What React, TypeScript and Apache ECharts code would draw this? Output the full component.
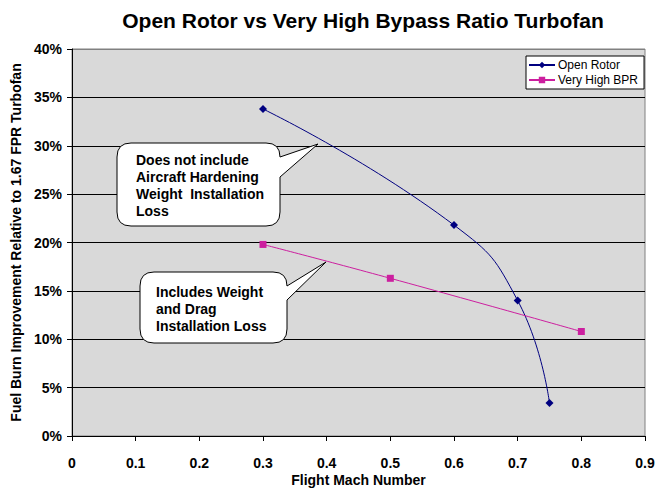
import React, { useEffect, useRef } from "react";
import * as echarts from "echarts";

const openRotorMach = [0.3, 0.6, 0.7, 0.75];
const openRotorValues = [0.338, 0.218, 0.14, 0.034];
const vhbprMach = [0.3, 0.5, 0.8];
const vhbprValues = [0.198, 0.163, 0.108];
const xTicks = [0, 0.1, 0.2, 0.3, 0.4, 0.5, 0.6, 0.7, 0.8, 0.9];
const yTicks = [0, 0.05, 0.1, 0.15, 0.2, 0.25, 0.3, 0.35, 0.4];

const bubble1Lines = ["Does not include", "Aircraft Hardening", "Weight  Installation", "Loss"];
const bubble2Lines = ["Includes Weight", "and Drag", "Installation Loss"];

const FONT = "Arial, 'Liberation Sans', Helvetica, sans-serif";

const bubble1D =
  "M131 143 H266 Q280 143 280 157 L318 144 L280 177 V212 Q280 226 266 226 H131 Q117 226 117 212 V157 Q117 143 131 143 Z";
const bubble2D =
  "M154 272 H273 Q287 272 287 286 L326 262 L287 300 V329 Q287 343 273 343 H154 Q140 343 140 329 V286 Q140 272 154 272 Z";

let registered = false;
function registerShapes() {
  if (registered) return;
  registered = true;
  echarts.graphic.registerShape("bubble1", echarts.graphic.extendPath(bubble1D, {}) as any);
  echarts.graphic.registerShape("bubble2", echarts.graphic.extendPath(bubble2D, {}) as any);
}

export default function App() {
  const ref = useRef<HTMLDivElement>(null);
  useEffect(() => {
    document.body.style.margin = "0";
    registerShapes();
    const chart = echarts.init(ref.current!, null, { renderer: "svg" });
    const splitColors = yTicks.map((_, i) => (i === yTicks.length - 1 ? "#808080" : "#000000"));
    chart.setOption({
      animation: false,
      backgroundColor: "#ffffff",
      title: {
        text: "Open Rotor vs Very High Bypass Ratio Turbofan",
        left: 358,
        top: 5,
        textAlign: "center",
        textStyle: { fontFamily: FONT, fontSize: 21, fontWeight: "bold", color: "#000" },
      },
      legend: {
        orient: "vertical",
        left: 526,
        top: 56,
        padding: [3, 6, 3, 2],
        itemGap: 3,
        itemWidth: 26,
        itemHeight: 8,
        backgroundColor: "#ffffff",
        borderColor: "#000000",
        borderWidth: 1,
        borderRadius: 0,
        textStyle: { fontFamily: FONT, fontSize: 12, color: "#000", padding: [0, 0, 0, -2] },
        data: ["Open Rotor", "Very High BPR"],
      },
      grid: {
        left: 72,
        right: 27,
        top: 49,
        bottom: 52,
        containLabel: false,
        outerBoundsMode: "none",
        show: true,
        backgroundColor: "#d9d9d9",
        borderColor: "#808080",
        borderWidth: 1,
      },
      xAxis: {
        type: "value",
        min: 0,
        max: 0.9,
        interval: 0.1,
        name: "Flight Mach Number",
        nameLocation: "middle",
        nameGap: 37,
        nameMoveOverlap: false,
        nameTextStyle: { fontFamily: FONT, fontSize: 14, fontWeight: "bold", color: "#000" },
        axisLine: { show: true, lineStyle: { color: "#000", width: 1 } },
        axisTick: { show: true, length: 5, lineStyle: { color: "#000" } },
        axisLabel: {
          fontFamily: FONT,
          fontSize: 14,
          fontWeight: "bold",
          color: "#000",
          margin: 20,
          formatter: (v: number) => {
            const t = xTicks.find((x) => Math.abs(x - v) < 1e-6);
            return t === undefined ? "" : String(t);
          },
        },
        splitLine: { show: false },
      },
      yAxis: {
        type: "value",
        min: 0,
        max: 0.4,
        interval: 0.05,
        name: "Fuel Burn Improvement Relative to 1.67 FPR Turbofan",
        nameLocation: "middle",
        nameGap: 47,
        nameTextStyle: { fontFamily: FONT, fontSize: 14, fontWeight: "bold", color: "#000" },
        axisLine: { show: true, lineStyle: { color: "#000", width: 1 } },
        axisTick: { show: true, length: 5, lineStyle: { color: "#000" } },
        axisLabel: {
          fontFamily: FONT,
          fontSize: 14,
          fontWeight: "bold",
          color: "#000",
          margin: 10,
          formatter: (v: number) => Math.round(v * 100) + "%",
        },
        splitLine: { show: true, lineStyle: { color: splitColors, width: 1 } },
      },
      series: [
        {
          name: "Open Rotor",
          type: "line",
          smooth: true,
          symbol: "diamond",
          symbolSize: 8,
          data: openRotorMach.map((m, i) => [m, openRotorValues[i]]),
          lineStyle: { color: "#000080", width: 1 },
          itemStyle: { color: "#000080" },
        },
        {
          name: "Very High BPR",
          type: "line",
          smooth: true,
          symbol: "rect",
          symbolSize: 7,
          data: vhbprMach.map((m, i) => [m, vhbprValues[i]]),
          lineStyle: { color: "#cc1f9f", width: 1 },
          itemStyle: { color: "#cc1f9f" },
        },
      ],
      graphic: [
        {
          type: "bubble1",
          x: 0,
          y: 0,
          z: 100,
          style: { fill: "#ffffff", stroke: "#000000", lineWidth: 1 },
        },
        {
          type: "text",
          x: 136,
          y: 151,
          z: 101,
          style: {
            text: bubble1Lines.join("\n"),
            font: `bold 14px ${FONT}`,
            fill: "#000",
            lineHeight: 17,
          },
        },
        {
          type: "bubble2",
          x: 0,
          y: 0,
          z: 100,
          style: { fill: "#ffffff", stroke: "#000000", lineWidth: 1 },
        },
        {
          type: "text",
          x: 156,
          y: 283,
          z: 101,
          style: {
            text: bubble2Lines.join("\n"),
            font: `bold 14px ${FONT}`,
            fill: "#000",
            lineHeight: 17,
          },
        },
      ],
    });
    return () => chart.dispose();
  }, []);
  return <div ref={ref} style={{ width: 672, height: 488 }} />;
}
